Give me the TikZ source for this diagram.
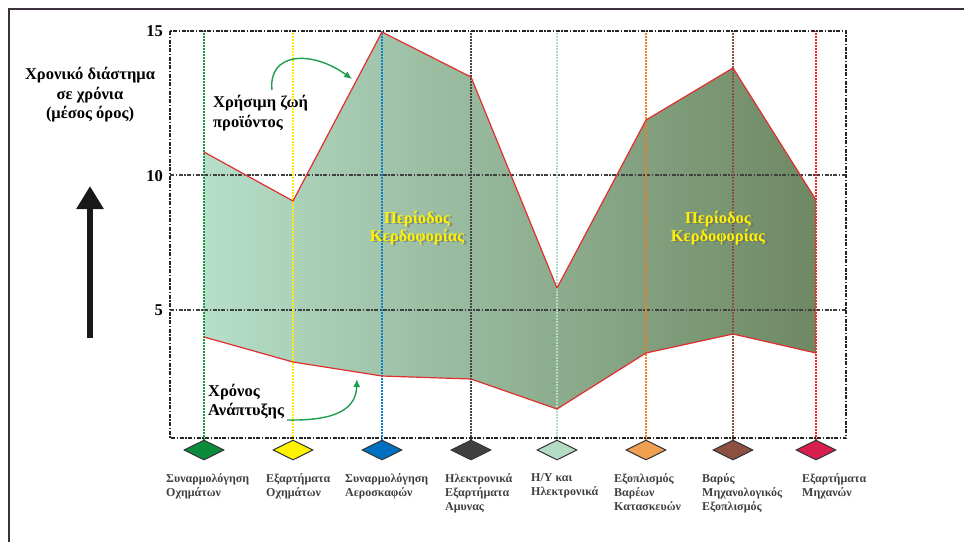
\documentclass[tikz,border=0pt]{standalone}
\usepackage{fontspec}
\setmainfont{Liberation Serif}
\usetikzlibrary{arrows.meta,shapes.geometric}
\definecolor{frameC}{HTML}{3C303C}
\definecolor{fillL}{HTML}{B6DEC9}
\definecolor{fillR}{HTML}{6E8862}
\definecolor{edgeR}{HTML}{E0302E}
\definecolor{arrG}{HTML}{1E9E50}
\definecolor{c1}{HTML}{0A8C3C}
\definecolor{c2}{HTML}{FFF200}
\definecolor{c3}{HTML}{0070C0}
\definecolor{c4}{HTML}{404040}
\definecolor{c5}{HTML}{B4DCC4}
\definecolor{c6}{HTML}{F0A050}
\definecolor{c7}{HTML}{8B5040}
\definecolor{c8}{HTML}{D81E4E}
\definecolor{v1}{HTML}{1A9A40}
\definecolor{v2}{HTML}{FFF000}
\definecolor{v3}{HTML}{1080D0}
\definecolor{v4}{HTML}{454545}
\definecolor{v5}{HTML}{B0DCC8}
\definecolor{v6}{HTML}{F08020}
\definecolor{v7}{HTML}{8B5040}
\definecolor{v8}{HTML}{FF2020}
\tikzset{
  gem/.style={diamond, draw=black!80, line width=1pt, minimum width=40pt, minimum height=20pt, inner sep=0pt, aspect=2},
  vline/.style={dash pattern=on 2pt off 1pt, line width=1.4pt},
  boxline/.style={dash pattern=on 4pt off 1.5pt on 1.5pt off 1.5pt, line width=1.4pt, black!85},
  gridline/.style={dash pattern=on 4pt off 1.5pt on 1.5pt off 1.5pt, line width=1.2pt, black!75},
  cat/.style={anchor=north west, align=left, inner sep=0pt, font=\fontsize{12}{14}\selectfont\bfseries, text=black!75},
  big/.style={font=\fontsize{16.5}{20}\selectfont\bfseries, inner sep=0pt},
  perC/.style={align=center, inner sep=0pt, font=\fontsize{16.5}{18}\selectfont\bfseries},
  garrow/.style={arrG, line width=1.4pt, -{Latex[length=8pt,width=7pt]}}
}
\begin{document}
\begin{tikzpicture}[x=1pt,y=-1pt]
\useasboundingbox (0,0) rectangle (964,542);
% outer frame
\draw[frameC, line width=2.5pt] (964,9) -- (9,9) -- (9,542);
% fill area
\shade[left color=fillL, right color=fillR]
  (204,152) -- (293,201) -- (382,32) -- (471,77) -- (557,288) -- (646,120) -- (733,68) -- (816,200)
  -- (816,353) -- (733,334) -- (646,353) -- (557,409) -- (471,379) -- (382,376) -- (293,362) -- (204,337) -- cycle;
% grid
\coordinate (g10l) at (170,175);
\coordinate (g10r) at (846,175);
\coordinate (g5l) at (170,310);
\coordinate (g5r) at (846,310);
\draw[gridline] (g10l) -- (g10r);
\draw[gridline] (g5l) -- (g5r);
% diamonds
\node[gem, fill=c1] (d1) at (204,450) {};
\node[gem, fill=c2] (d2) at (293,450) {};
\node[gem, fill=c3] (d3) at (382,450) {};
\node[gem, fill=c4] (d4) at (471,450) {};
\node[gem, fill=c5] (d5) at (557,450) {};
\node[gem, fill=c6] (d6) at (646,450) {};
\node[gem, fill=c7] (d7) at (733,450) {};
\node[gem, fill=c8] (d8) at (816,450) {};
\coordinate (top) at (0,31);
\foreach \i in {1,...,8} {
  \draw[vline, v\i] (d\i.north) -- (d\i.north |- top);
}
% plot box
\coordinate (bTL) at (170,31);
\coordinate (bBR) at (846,438);
\draw[boxline] (bTL) rectangle (bBR);
% red outline
\draw[edgeR, line width=1.2pt, line join=round]
  (204,152) -- (293,201) -- (382,32) -- (471,77) -- (557,288) -- (646,120) -- (733,68) -- (816,200);
\draw[edgeR, line width=1.2pt, line join=round]
  (204,337) -- (293,362) -- (382,376) -- (471,379) -- (557,409) -- (646,353) -- (733,334) -- (816,353);
% axis numbers
\node[big, anchor=east] (n15) at (163,31) {15};
\node[big, anchor=east] (n10) at (163,176) {10};
\node[big, anchor=east] (n5) at (163,310) {5};
% left label
\node[big, align=center, font=\fontsize{16.5}{19.5}\selectfont\bfseries] (ylab) at (90,95) {Χρονικό διάστημα\\σε χρόνια\\(μέσος όρος)};
% big arrow
\coordinate (a0) at (90,338);
\coordinate (a1) at (90,186);
\draw[black!90, line width=6pt, -{Triangle[width=26pt,length=23pt]}] (a0) -- (a1);
% inner labels
\node[big, align=left, anchor=west, font=\fontsize{16.5}{19.5}\selectfont\bfseries] (life) at (213,113) {Χρήσιμη ζωή\\προϊόντος};
\node[big, align=left, anchor=west, font=\fontsize{16.5}{19}\selectfont\bfseries] (dev) at (208,402) {Χρόνος\\Ανάπτυξης};
\coordinate (la0) at (272,90);
\coordinate (la1) at (352,79);
\draw[garrow] (la0) .. controls (268,52) and (312,50) .. (la1);
\coordinate (da0) at (287,420);
\coordinate (da1) at (357,379);
\draw[garrow] (da0) .. controls (338,421) and (356,408) .. (da1);
% profit labels
\node[perC, text=black!60, opacity=0.55] at (419.5,229.5) {Περίοδος\\Κερδοφορίας};
\node[perC, text=yellow] (p1) at (417,228) {Περίοδος\\Κερδοφορίας};
\node[perC, text=black!60, opacity=0.55] at (720.5,229.5) {Περίοδος\\Κερδοφορίας};
\node[perC, text=yellow] (p2) at (718,228) {Περίοδος\\Κερδοφορίας};
% category labels
\node[cat] (t1) at (166,473) {Συναρμολόγηση\\Οχημάτων};
\node[cat] (t2) at (266,473) {Εξαρτήματα\\Οχημάτων};
\node[cat] (t3) at (345,473) {Συναρμολόγηση\\Αεροσκαφών};
\node[cat] (t4) at (445,473) {Ηλεκτρονικά\\Εξαρτήματα\\Αμυνας};
\node[cat] (t5) at (531,473) {Η/Υ και\\Ηλεκτρονικά};
\node[cat] (t6) at (614,473) {Εξοπλισμός\\Βαρέων\\Κατασκευών};
\node[cat] (t7) at (702,473) {Βαρύς\\Μηχανολογικός\\Εξοπλισμός};
\node[cat] (t8) at (802,473) {Εξαρτήματα\\Μηχανών};
\end{tikzpicture}
\end{document}
